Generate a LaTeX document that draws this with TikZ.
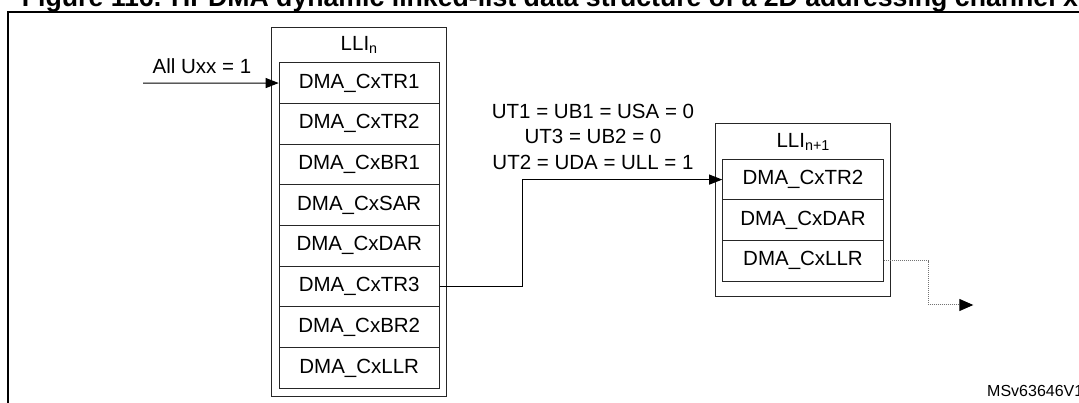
\documentclass[tikz,border=0pt]{standalone}
\usepackage{fontspec}
\setmainfont{Liberation Sans}
\usetikzlibrary{arrows.meta}
\tikzset{
  frame/.style={draw=black,line width=1.8pt},
  outerbox/.style={draw=black!85,line width=1pt,minimum width=175pt,inner sep=0pt},
  rowbox/.style={draw=black!85,line width=1pt,minimum width=160pt,minimum height=40.7pt,inner sep=0pt,font=\fontsize{20.5}{24}\selectfont},
  lbl/.style={inner sep=0pt,font=\fontsize{20.5}{24}\selectfont},
  conn/.style={draw=black,line width=1pt},
  arr/.style={conn,-{Triangle[length=13pt,width=10pt]}},
  dotconn/.style={draw=black!55,line width=1pt,dash pattern=on 1pt off 1pt,-{Triangle[length=14pt,width=12pt,color=black,fill=black]}}
}
\begin{document}
\begin{tikzpicture}[x=1pt,y=-1pt]
\useasboundingbox (0,0) rectangle (1079,403);
\clip (0,0) rectangle (1079,403);
% title (cut off at top)
\node[anchor=base west,inner sep=0pt] (title) at (21.7,6.5) {\resizebox{1056pt}{!}{\bfseries Figure 116. HPDMA dynamic linked-list data structure of a 2D addressing channel x}};
% frame
\draw[frame] (8,12) rectangle (1095,415);
% LLI n
\node[outerbox,minimum height=368.7pt] (lliN) at (359.2,211.65) {};
\node[lbl] (lliNlbl) at (359.2,45) {LLI\textsubscript{n}};
\foreach \t [count=\i] in {DMA\_CxTR1,DMA\_CxTR2,DMA\_CxBR1,DMA\_CxSAR,DMA\_CxDAR,DMA\_CxTR3,DMA\_CxBR2,DMA\_CxLLR}{
  \node[rowbox] (r\i) at (359.2,{62.7+40.7*(\i-0.5)}) {\t};
}
% LLI n+1
\node[outerbox,minimum height=173.4pt] (lliM) at (803.2,210) {};
\node[lbl] (lliMlbl) at (803.2,141.7) {LLI\textsubscript{n+1}};
\foreach \t [count=\i] in {DMA\_CxTR2,DMA\_CxDAR,DMA\_CxLLR}{
  \node[rowbox,minimum width=160.6pt,minimum height=40.6pt] (m\i) at (803,{159.3+40.6*(\i-0.5)}) {\t};
}
% input arrow
\coordinate (in) at (143,83.05);
\draw[arr] (in) -- (r1.west);
\node[lbl] (lblA) at (202,66) {All Uxx = 1};
% link arrow
\coordinate (c1) at (522.7,230);
\draw[arr] (r6.east) -| (c1) |- (m1.west);
\node[lbl,align=center,font=\fontsize{20.5}{25.5}\selectfont] (lblU) at (593,136.7) {UT1 = UB1 = USA = 0\\UT3 = UB2 = 0\\UT2 = UDA = ULL = 1};
% next arrow (dotted)
\coordinate (c2) at (928.3,280);
\coordinate (nx) at (973.3,305);
\draw[dotconn] (m3.east) -| (c2) |- (nx);
% reference code
\node[anchor=base west,inner sep=0pt,font=\fontsize{16}{18}\selectfont] (ref) at (987,396.7) {MSv63646V1};
\end{tikzpicture}
\end{document}
